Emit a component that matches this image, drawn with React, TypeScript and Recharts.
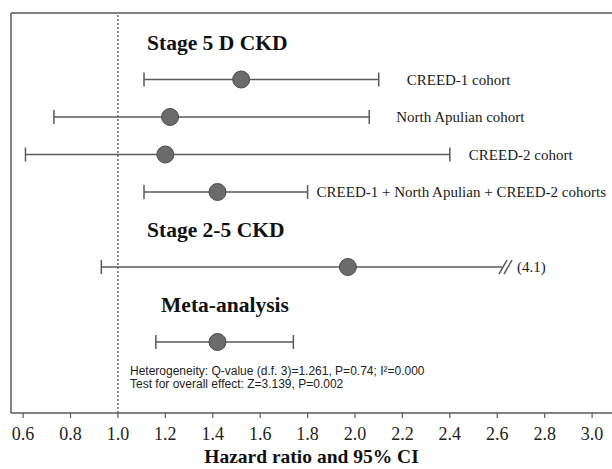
import React from 'react';
import { ComposedChart, Scatter, ErrorBar, XAxis, YAxis, ReferenceLine } from 'recharts';

// rows of the forest plot, top to bottom
const slots = [
  'Stage 5 D CKD',
  'CREED-1 cohort',
  'North Apulian cohort',
  'CREED-2 cohort',
  'CREED-1 + North Apulian + CREED-2 cohorts',
  'Stage 2-5 CKD',
  'Stage 2-5 estimate',
  'Meta-analysis',
  'Meta-analysis estimate',
];
const headers = ['Stage 5 D CKD', 'Stage 2-5 CKD', 'Meta-analysis'];

const studies = [
  'CREED-1 cohort',
  'North Apulian cohort',
  'CREED-2 cohort',
  'CREED-1 + North Apulian + CREED-2 cohorts',
  'Stage 2-5 estimate',
  'Meta-analysis estimate',
];
const studyLabels = [
  'CREED-1 cohort',
  'North Apulian cohort',
  'CREED-2 cohort',
  'CREED-1 + North Apulian + CREED-2 cohorts',
  '',
  '',
];
const hazardRatio = [1.52, 1.22, 1.2, 1.42, 1.97, 1.42];
const ciLower = [1.11, 0.73, 0.61, 1.11, 0.93, 1.16];
const ciUpper = [2.1, 2.06, 2.4, 1.8, 4.1, 1.74];

const xTicks = [0.6, 0.8, 1.0, 1.2, 1.4, 1.6, 1.8, 2.0, 2.2, 2.4, 2.6, 2.8, 3.0];
const notes = [
  'Heterogeneity: Q-value (d.f. 3)=1.261, P=0.74; I\u00b2=0.000',
  'Test for overall effect: Z=3.139, P=0.002',
];

const AXIS_BREAK = 2.62;
const X_MIN = 0.549;
const X_MAX = 3.084;
const Y_TOP = -0.773;
const Y_BOTTOM = 9.893;
const HEADER_X = 1.123;
const LABEL_GAP = [28, 27, 19, 9];
const HEADER_INDENT: Record<string, number> = { 'Meta-analysis': 14 };

const LINE = '#5a5a5a';
const SERIF = '"Liberation Serif", "Times New Roman", serif';

const rows = studies.map((s, i) => ({
  name: s,
  label: studyLabels[i],
  hr: hazardRatio[i],
  lo: ciLower[i],
  hi: ciUpper[i],
  row: slots.indexOf(s),
}));
const fullRows = rows
  .filter((r) => r.hi <= AXIS_BREAK)
  .map((r) => ({ ...r, err: [r.hr - r.lo, r.hi - r.hr] }));
const cutRows = rows
  .filter((r) => r.hi > AXIS_BREAK)
  .map((r) => ({ ...r, errLo: [r.hr - r.lo, 0], errHi: [0, AXIS_BREAK - r.hr] }));
const breakMarks = cutRows.map((r) => ({ hr: AXIS_BREAK, row: r.row, hi: r.hi }));
const labelRows = rows
  .filter((r) => r.label)
  .map((r, i) => ({ hr: r.hi, row: r.row, label: r.label, gap: LABEL_GAP[i] }));
const headerRows = headers.map((h) => ({ hr: HEADER_X, row: slots.indexOf(h), label: h }));

const Marker = (p: any) => (
  <circle cx={p.cx} cy={p.cy} r={8.5} fill="#6b6b6b" stroke="#4a4a4a" strokeWidth={1} />
);

const StudyLabel = (p: any) => (
  <text x={p.cx + p.payload.gap} y={p.cy} dy="0.35em" fontFamily={SERIF} fontSize={15} fill="#1a1a1a">
    {p.payload.label}
  </text>
);

const Header = (p: any) => (
  <text
    x={p.cx + (HEADER_INDENT[p.payload.label] || 0)}
    y={p.cy}
    dy="0.35em"
    fontFamily={SERIF}
    fontSize={21.5}
    fontWeight="bold"
    fill="#111"
  >
    {p.payload.label}
  </text>
);

const BreakMark = (p: any) => (
  <g>
    <line x1={p.cx - 3} y1={p.cy + 7} x2={p.cx + 5} y2={p.cy - 7} stroke={LINE} strokeWidth={1.5} />
    <line x1={p.cx + 2} y1={p.cy + 7} x2={p.cx + 10} y2={p.cy - 7} stroke={LINE} strokeWidth={1.5} />
    <text x={p.cx + 15} y={p.cy} dy="0.35em" fontFamily={SERIF} fontSize={15} fill="#1a1a1a">
      ({p.payload.hi})
    </text>
  </g>
);

const Notes = (p: any) => (
  <text x={p.cx} y={p.cy} fontFamily='"Liberation Sans", Arial, sans-serif' fontSize={12} fill="#222">
    {notes.map((n, i) => (
      <tspan key={n} x={p.cx} dy={i === 0 ? '0.35em' : 13}>
        {n}
      </tspan>
    ))}
  </text>
);

export default function App() {
  return (
    <div style={{ position: 'absolute', left: 0, top: 0, width: 612, height: 469, background: '#fff' }}>
      <ComposedChart width={612} height={469} margin={{ top: 13, right: 0, left: 11, bottom: 0 }}>
        <XAxis
          type="number"
          dataKey="hr"
          domain={[X_MIN, X_MAX]}
          ticks={xTicks}
          interval={0}
          allowDataOverflow
          tickFormatter={(v: number) => v.toFixed(1)}
          height={56}
          tickSize={5}
          tickMargin={9}
          axisLine={{ stroke: LINE, strokeWidth: 1.5 }}
          tickLine={{ stroke: LINE, strokeWidth: 1.2 }}
          tick={{ fontFamily: SERIF, fontSize: 18, fill: '#222' }}
          label={{
            value: 'Hazard ratio and 95% CI',
            position: 'insideBottom',
            offset: 6,
            fontFamily: SERIF,
            fontSize: 19.5,
            fontWeight: 'bold',
            fill: '#111',
          }}
        />
        <YAxis type="number" dataKey="row" domain={[Y_TOP, Y_BOTTOM]} reversed hide allowDataOverflow />
        <ReferenceLine y={Y_TOP} stroke={LINE} strokeWidth={1.5} />
        <ReferenceLine x={X_MIN} stroke={LINE} strokeWidth={1.5} />
        <ReferenceLine x={1} stroke="#222" strokeWidth={1} strokeDasharray="2 2" />
        <Scatter data={fullRows} shape={Marker} isAnimationActive={false}>
          <ErrorBar dataKey="err" direction="x" width={7} stroke={LINE} strokeWidth={1.5} isAnimationActive={false} />
        </Scatter>
        <Scatter data={cutRows} shape={Marker} isAnimationActive={false}>
          <ErrorBar dataKey="errLo" direction="x" width={7} stroke={LINE} strokeWidth={1.5} isAnimationActive={false} />
          <ErrorBar dataKey="errHi" direction="x" width={0} stroke={LINE} strokeWidth={1.5} isAnimationActive={false} />
        </Scatter>
        <Scatter data={breakMarks} shape={BreakMark} isAnimationActive={false} />
        <Scatter data={labelRows} shape={StudyLabel} isAnimationActive={false} />
        <Scatter data={headerRows} shape={Header} isAnimationActive={false} />
        <Scatter data={[{ hr: 1.051, row: 8.77 }]} shape={Notes} isAnimationActive={false} />
      </ComposedChart>
    </div>
  );
}
